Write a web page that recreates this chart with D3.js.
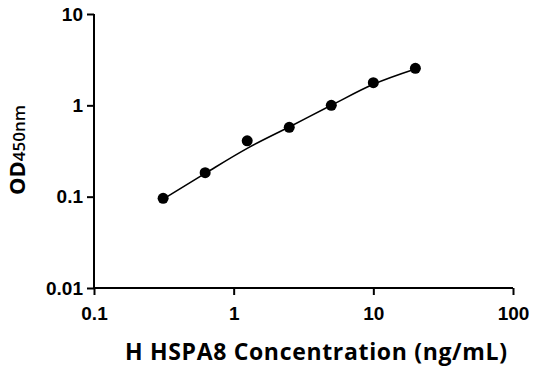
<!DOCTYPE html>
<html lang="en">
<head>
    <meta charset="UTF-8">
    <title>HSPA8 standard curve</title>
    <style type="text/css">
        * {
            margin: 0;
            padding: 0;
        }
        body {
            background: #fff;
        }
    </style>
</head>
<body>
<div id="chart-area"></div>
<script src="https://cdn.jsdelivr.net/npm/d3@7/dist/d3.min.js"></script>
<script type="text/javascript">

  const WIDTH = 536
  const HEIGHT = 371

  // standard points
  const concentrations = [0.3125, 0.625, 1.25, 2.5, 5, 10, 20]
  const odValues = [0.096, 0.183, 0.409, 0.574, 1.0, 1.77, 2.54]
  // fitted curve at the same concentrations
  const fitValues = [0.094, 0.18, 0.338, 0.58, 1.0, 1.7, 2.5]

  const xTicks = [0.1, 1, 10, 100]
  const yTicks = [0.01, 0.1, 1, 10]
  const xTickLabels = ['0.1', '1', '10', '100']
  const yTickLabels = ['0.01', '0.1', '1', '10']

  const margin = {top: 14, right: 23, bottom: 83, left: 94}

  const svg = d3.select('#chart-area').append('svg')
      .attr('width', WIDTH)
      .attr('height', HEIGHT)

  const x = d3.scaleLog()
      .domain([0.1, 100])
      .range([margin.left, WIDTH - margin.right])

  const y = d3.scaleLog()
      .domain([0.01, 10])
      .range([HEIGHT - margin.bottom, margin.top])

  const xAxis = svg.append('g')
      .attr('transform', `translate(0, ${HEIGHT - margin.bottom})`)
      .call(d3.axisBottom(x).tickValues(xTicks).tickSize(7).tickPadding(12)
          .tickFormat((d, i) => xTickLabels[i]))

  const yAxis = svg.append('g')
      .attr('transform', `translate(${margin.left}, 0)`)
      .call(d3.axisLeft(y).tickValues(yTicks).tickSize(7).tickPadding(4)
          .tickFormat((d, i) => yTickLabels[i]))

  svg.selectAll('.domain')
      .attr('stroke', '#000')
      .attr('stroke-width', 2)
  xAxis.select('.domain').attr('d', `M${margin.left},0H${WIDTH - margin.right}`)
  yAxis.select('.domain').attr('d', `M0,${margin.top}V${HEIGHT - margin.bottom}`)

  svg.selectAll('.tick line')
      .attr('stroke', '#000')
      .attr('stroke-width', 2)

  svg.selectAll('.tick text')
      .attr('fill', '#000')
      .attr('font-family', 'Liberation Sans, Arial, sans-serif')
      .attr('font-weight', 'bold')
      .attr('font-size', '19px')

  // fitted line
  const line = d3.line()
      .x((d) => x(d[0]))
      .y((d) => y(d[1]))
      .curve(d3.curveMonotoneX)

  svg.append('path')
      .datum(d3.zip(concentrations, fitValues))
      .attr('d', line)
      .attr('fill', 'none')
      .attr('stroke', '#000')
      .attr('stroke-width', 1.6)

  svg.selectAll('.dot')
      .data(d3.zip(concentrations, odValues))
      .enter()
      .append('circle')
      .attr('class', 'dot')
      .attr('cx', (d) => x(d[0]))
      .attr('cy', (d) => y(d[1]))
      .attr('r', 5.5)
      .attr('fill', '#000')

  // axis titles
  svg.append('text')
      .attr('x', 316)
      .attr('y', 360)
      .attr('text-anchor', 'middle')
      .attr('textLength', 382)
      .attr('font-family', 'Open Sans, sans-serif')
      .attr('font-weight', 'bold')
      .attr('font-size', '23px')
      .attr('fill', '#000')
      .text('H HSPA8 Concentration (ng/mL)')

  const yTitle = svg.append('text')
      .attr('transform', 'translate(25, 150) rotate(-90)')
      .attr('text-anchor', 'middle')
      .attr('font-family', 'Open Sans, sans-serif')
      .attr('fill', '#000')
  yTitle.append('tspan')
      .attr('font-weight', 'bold')
      .attr('font-size', '22px')
      .text('OD')
  yTitle.append('tspan')
      .attr('font-size', '17px')
      .attr('font-weight', '600')
      .text('450nm')

</script>
</body>
</html>
